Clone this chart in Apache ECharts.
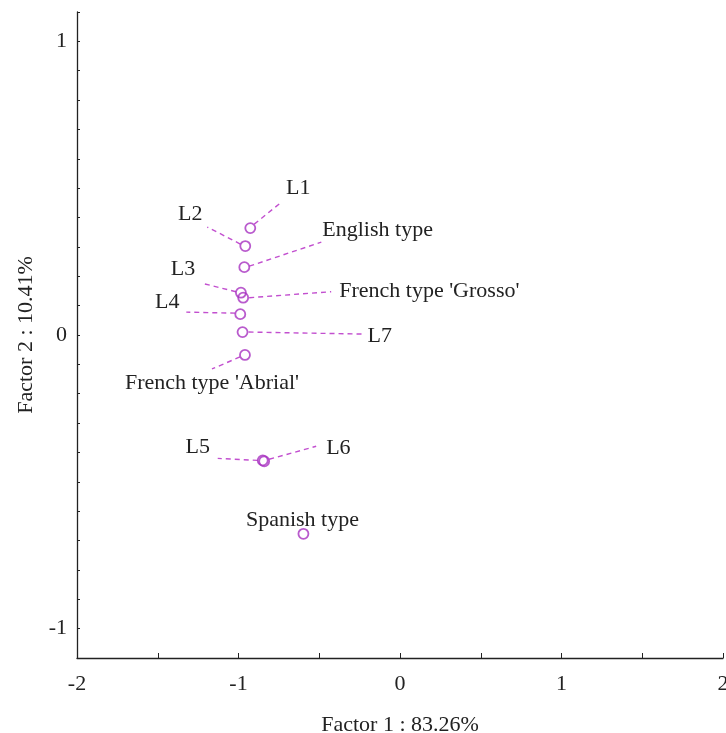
<!DOCTYPE html>
<html>
<head>
<meta charset="utf-8">
<script src="https://cdn.jsdelivr.net/npm/echarts@6/dist/echarts.min.js"></script>
<style>html,body{margin:0;padding:0;background:#fff}#c{width:726px;height:733px}</style>
</head>
<body>
<div id="c"></div>
<script>
// ---- data ----
const names = ['L1', 'L2', 'English type', 'L3', "French type 'Grosso'", 'L4', 'L7', "French type 'Abrial'", 'L5', 'L6', 'Spanish type'];
const factor1 = [-0.927, -0.958, -0.964, -0.985, -0.971, -0.989, -0.975, -0.960, -0.850, -0.841, -0.598];
const factor2 = [0.364, 0.303, 0.231, 0.144, 0.127, 0.071, 0.010, -0.068, -0.427, -0.430, -0.677];
const xTickLabels = [-2, -1, 0, 1, 2];
const yTickLabels = [-1, 0, 1];
const xTitle = 'Factor 1 : 83.26%';
const yTitle = 'Factor 2 : 10.41%';

// ---- label layout (pixel offsets from each point) ----
const labelLayout = [
  {t: [48, -40], a: 'center', s: [4, -4, 30, -25]},
  {t: [-55, -32], a: 'center', s: [-5, -2, -38, -19]},
  {t: [78, -37], a: 'left', s: [5, -1, 77, -25]},
  {t: [-58, -23], a: 'center', s: [-5, -1, -37, -9]},
  {t: [96, -6], a: 'left', s: [6, 0, 88, -6]},
  {t: [-73, -12], a: 'center', s: [-5, -1, -54, -2]},
  {t: [125, 4], a: 'left', s: [6, 0, 120, 2]},
  {t: [-33, 28], a: 'center', s: [-5, 2, -33, 14]},
  {t: [-65, -13], a: 'center', s: [-5, 0, -45, -2]},
  {t: [62, -13], a: 'left', s: [5, -2, 52, -15]},
  {t: [-1, -14], a: 'center', s: null}
];

const FONT = 'Liberation Serif';
const FS = 22;
const purple = '#a832c0';
const dashColor = '#c24fcf';
const pts = names.map((n, i) => [factor1[i], factor2[i]]);

const chart = echarts.init(document.getElementById('c'), null, {renderer: 'canvas'});
chart.setOption({
  animation: false,
  backgroundColor: '#fff',
  grid: {left: 77, right: 3, top: 12, bottom: 75, containLabel: false, outerBoundsMode: 'none'},
  xAxis: {
    type: 'value', min: -2, max: 2, interval: 0.5,
    name: xTitle, nameLocation: 'middle', nameGap: 56,
    nameTextStyle: {fontFamily: FONT, fontSize: FS, color: '#222'},
    axisLine: {show: true, onZero: false, lineStyle: {color: '#222', width: 1.3}},
    axisTick: {show: true, inside: true, length: 5, lineStyle: {color: '#222'}},
    axisLabel: {customValues: xTickLabels, margin: 15, fontFamily: FONT, fontSize: FS, color: '#222'},
    splitLine: {show: false}
  },
  yAxis: {
    type: 'value', min: -1.1, max: 1.1, interval: 0.1,
    name: yTitle, nameLocation: 'middle', nameGap: 40, nameRotate: 90,
    nameTextStyle: {fontFamily: FONT, fontSize: FS, color: '#222'},
    axisLine: {show: true, onZero: false, lineStyle: {color: '#222', width: 1.3}},
    axisTick: {show: true, inside: true, length: 3, lineStyle: {color: '#222'}},
    axisLabel: {customValues: yTickLabels, margin: 10, fontFamily: FONT, fontSize: FS, color: '#222'},
    splitLine: {show: false}
  },
  series: [
    {
      type: 'custom',
      silent: true,
      clip: false,
      z: 1,
      data: pts,
      renderItem: function (params, api) {
        const i = params.dataIndex;
        const p = api.coord([api.value(0), api.value(1)]);
        const o = labelLayout[i];
        const children = [];
        if (o.s) {
          children.push({
            type: 'line',
            shape: {x1: p[0] + o.s[0], y1: p[1] + o.s[1], x2: p[0] + o.s[2], y2: p[1] + o.s[3]},
            style: {stroke: dashColor, lineWidth: 1.4, lineDash: [5, 4]}
          });
        }
        children.push({
          type: 'text',
          x: p[0] + o.t[0], y: p[1] + o.t[1],
          style: {text: names[i], textAlign: o.a, textVerticalAlign: 'middle',
                  font: FS + 'px "' + FONT + '"', fill: '#222'}
        });
        return {type: 'group', children: children};
      }
    },
    {
      type: 'scatter',
      z: 2,
      data: pts,
      symbol: 'circle',
      symbolSize: 10,
      itemStyle: {color: 'rgba(0,0,0,0)', borderColor: purple, borderWidth: 1.8}
    }
  ]
});
</script>
</body>
</html>
